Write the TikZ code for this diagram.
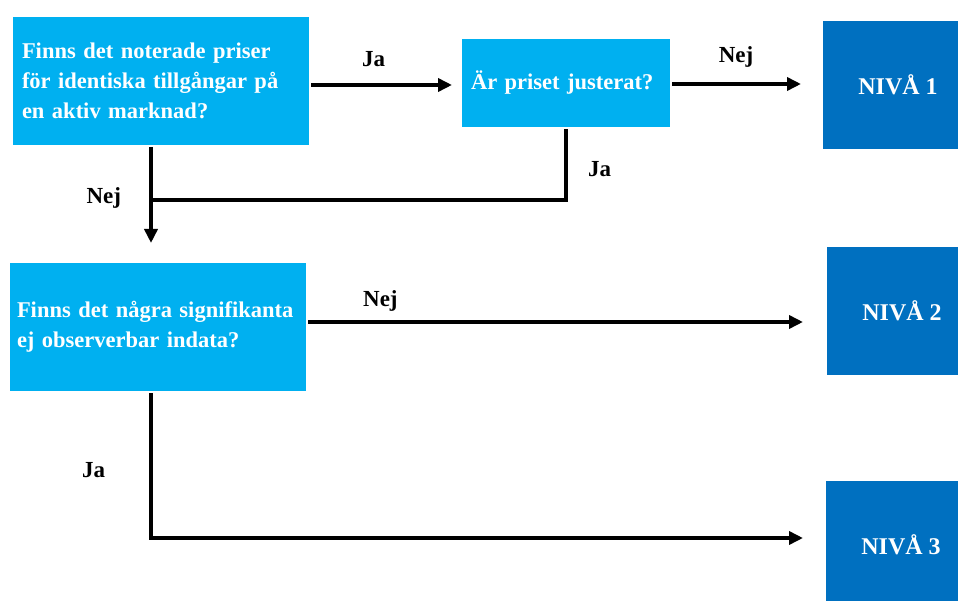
\documentclass[tikz,border=0pt]{standalone}
\usepackage{fontspec}
\setmainfont{Liberation Serif}
\usetikzlibrary{arrows.meta}
\definecolor{ljusbla}{HTML}{00B0F0}
\definecolor{morkbla}{HTML}{0070C0}
\tikzset{
	fraga/.style={fill=ljusbla, text=white, font=\bfseries\fontsize{22.5}{30}\selectfont, align=left, anchor=north west, inner xsep=9pt},
	niva/.style={fill=morkbla, text=white, font=\bfseries\fontsize{24}{26}\selectfont, anchor=north west, minimum width=152pt, minimum height=128pt},
	svar/.style={font=\bfseries\fontsize{23}{26}\selectfont, text=black, inner sep=0pt}
}
\begin{document}
\begin{tikzpicture}[x=1pt, y=-1pt, line width=4pt, line join=miter, >={Triangle[length=14pt,width=13pt]}]
			\useasboundingbox (0,0) rectangle (958,601);
			\clip (0,0) rectangle (958,601);
			% frågor
			\node[fraga, text width=278pt, minimum height=128pt] (q1) at (11,15) {Finns det noterade priser\\för identiska tillgångar på\\en aktiv marknad?};
			\node[fraga, text width=190pt, minimum height=88pt] (q2) at (460,37) {Är priset justerat?};
			\node[fraga, text width=282pt, inner xsep=7pt, minimum height=128pt] (q3) at (8,261) {Finns det några signifikanta\\ej observerbar indata?};
			% nivåer
			\node[niva] (niva1) at (821,19) {\hspace*{-2pt}NIVÅ 1};
			\node[niva] (niva2) at (825,245) {\hspace*{-2pt}NIVÅ 2};
			\node[niva] (niva3) at (824,479) {\hspace*{-2pt}NIVÅ 3};
			\coordinate (j1) at (151,200);
			\coordinate (j2) at (151,538);
			% pilar
			\draw[->, shorten >=8pt] ([yshift=-4pt]q1.east) -- ([yshift=-2pt]q2.west) node[svar, pos=0.42, above=16pt]{Ja};
			\draw[->, shorten >=20pt] ([yshift=-1pt]q2.east) -- ([yshift=-1pt]q2.east -| niva1.west) node[svar, pos=0.43, above=15pt]{Nej};
			\draw[->, shorten >=18pt] (j1 |- q1.south) -- (j1 |- q3.north) node[svar, pos=0.45, left=28pt]{Nej};
			\draw (q2.south) |- (j1) node[svar, pos=0.28, right=20pt]{Ja};
			\draw[->, shorten >=22pt] ([yshift=5pt]q3.east) -- ([yshift=5pt]q3.east -| niva2.west) node[svar, pos=0.14, above=9pt]{Nej};
			\draw[->, shorten >=21pt] (j2 |- q3.south) |- (j2 -| niva3.west) node[svar, pos=0.265, left=44pt]{Ja};
\end{tikzpicture}
\end{document}
